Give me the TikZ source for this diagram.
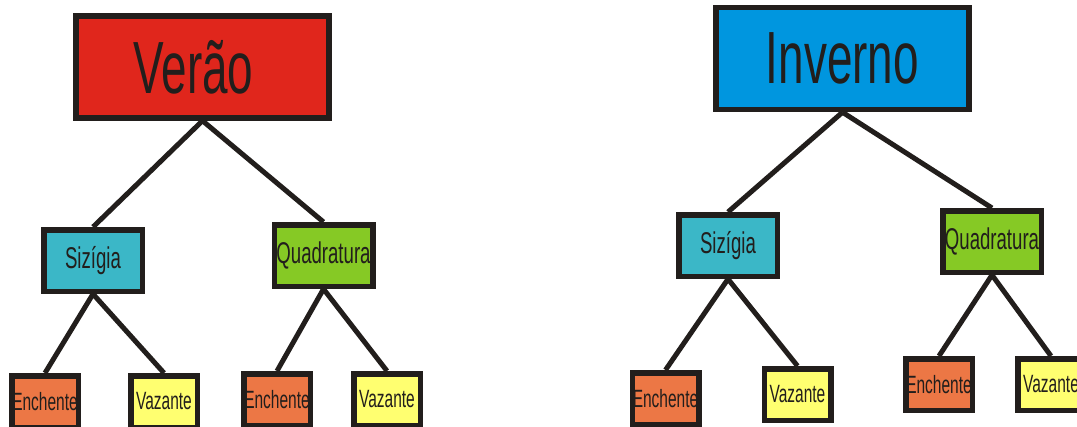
\documentclass[tikz,border=0pt]{standalone}
\usepackage{fontspec}
\usepackage{tikz}
\newfontfamily\condfont[FakeStretch=0.62]{Liberation Sans}
\definecolor{contorno}{HTML}{221E1C}
\definecolor{vermelho}{HTML}{E0261C}
\definecolor{azul}{HTML}{0096DF}
\definecolor{turquesa}{HTML}{3BB7C7}
\definecolor{verde}{HTML}{86C925}
\definecolor{laranja}{HTML}{EC7745}
\definecolor{amarelo}{HTML}{FFFF70}
\tikzset{
    caixa/.style={draw=contorno, line width=5.5pt, rectangle, inner sep=0pt, text=contorno},
    estacao/.style={caixa, minimum width=253pt, minimum height=102pt, font=\condfont\fontsize{74}{80}\selectfont},
    fase/.style={caixa, minimum width=98.5pt, minimum height=61.5pt, font=\condfont\fontsize{30}{34}\selectfont},
    mare/.style={caixa, minimum width=66.5pt, minimum height=51.5pt, font=\condfont\fontsize{25}{28}\selectfont},
    ramo/.style={draw=contorno, line width=5pt}
}
\begin{document}
\begin{tikzpicture}[x=1pt, y=-1pt]
    \clip (0,0) rectangle (1077,426);
    \fill[white] (0,0) rectangle (1077,426);
    % verao
    \node[estacao, fill=vermelho] (verao) at (202.5,67) {Verão\hspace*{18pt}};
    \node[fase, fill=turquesa] (sizV) at (93,260.5) {Sizígia};
    \node[fase, fill=verde] (quadV) at (323.5,255.5) {Quadratura};
    \node[mare, fill=laranja] (enchSV) at (45,401.5) {Enchente};
    \node[mare, fill=amarelo] (vazSV) at (164,401.5) {Vazante};
    \node[mare, fill=laranja] (enchQV) at (277,399.5) {Enchente};
    \node[mare, fill=amarelo] (vazQV) at (387,399.5) {Vazante};
    % inverno
    \node[estacao, fill=azul] (inverno) at (842.5,58.5) {Inverno};
    \node[fase, fill=turquesa] (sizI) at (728,245.5) {Sizígia};
    \node[fase, fill=verde] (quadI) at (992,241.5) {Quadratura};
    \node[mare, fill=laranja] (enchSI) at (665.5,398.5) {Enchente};
    \node[mare, fill=amarelo] (vazSI) at (797.5,394.5) {Vazante};
    \node[mare, fill=laranja] (enchQI) at (939,384.5) {Enchente};
    \node[mare, fill=amarelo] (vazQI) at (1051,384.5) {Vazante};
    \draw[ramo] (verao.south) -- (sizV.north);
    \draw[ramo] (verao.south) -- (quadV.north);
    \draw[ramo] (sizV.south) -- (enchSV.north);
    \draw[ramo] (sizV.south) -- (vazSV.north);
    \draw[ramo] (quadV.south) -- (enchQV.north);
    \draw[ramo] (quadV.south) -- (vazQV.north);
    \draw[ramo] (inverno.south) -- (sizI.north);
    \draw[ramo] (inverno.south) -- (quadI.north);
    \draw[ramo] (sizI.south) -- (enchSI.north);
    \draw[ramo] (sizI.south) -- (vazSI.north);
    \draw[ramo] (quadI.south) -- (enchQI.north);
    \draw[ramo] (quadI.south) -- (vazQI.north);
\end{tikzpicture}
\end{document}
